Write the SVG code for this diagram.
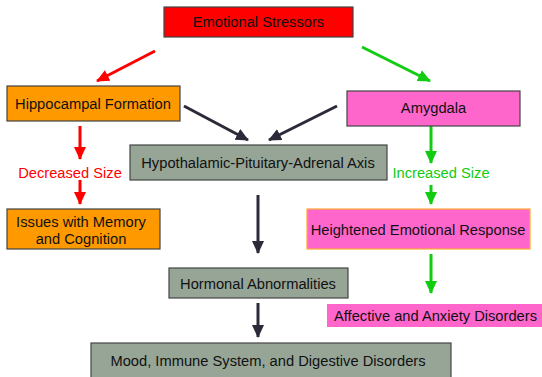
<svg xmlns="http://www.w3.org/2000/svg" width="542" height="377" viewBox="0 0 542 377">
<style>
text{font-family:"Liberation Sans",Arial,sans-serif;font-size:14.7px;text-anchor:middle;fill:#111}
.box{stroke:#444;stroke-width:1.2}
.red{fill:#FF0000}
.org{fill:#FF9900}
.pink{fill:#FF66CC}
.gray{fill:#96A596}
.lr{stroke:#FF0000;stroke-width:3;fill:none}
.lg{stroke:#11CC11;stroke-width:3;fill:none}
.ld{stroke:#2A2A38;stroke-width:3;fill:none}
.tr{fill:#FF0000}
.tg{fill:#11CC11}
</style>
<defs>
<marker id="ar" markerUnits="userSpaceOnUse" markerWidth="14" markerHeight="14" viewBox="0 0 14 14" refX="12" refY="7" orient="auto"><path d="M0,1 L13,7 L0,13 Z" fill="#FF0000"/></marker>
<marker id="ag" markerUnits="userSpaceOnUse" markerWidth="14" markerHeight="14" viewBox="0 0 14 14" refX="12" refY="7" orient="auto"><path d="M0,1 L13,7 L0,13 Z" fill="#11CC11"/></marker>
<marker id="ad" markerUnits="userSpaceOnUse" markerWidth="14" markerHeight="14" viewBox="0 0 14 14" refX="12" refY="7" orient="auto"><path d="M0,1 L13,7 L0,13 Z" fill="#2A2A38"/></marker>
</defs>
<g id="connectors">
<line class="lr" x1="155" y1="51" x2="97" y2="81" marker-end="url(#ar)"/>
<line class="lg" x1="362" y1="47" x2="430" y2="81" marker-end="url(#ag)"/>
<line class="ld" x1="184" y1="106" x2="248" y2="140" marker-end="url(#ad)"/>
<line class="ld" x1="337" y1="106" x2="269" y2="140" marker-end="url(#ad)"/>
<line class="lr" x1="80" y1="126" x2="80" y2="159" marker-end="url(#ar)"/>
<line class="lr" x1="80" y1="180" x2="80" y2="204" marker-end="url(#ar)"/>
<line class="lg" x1="431" y1="126" x2="431" y2="163" marker-end="url(#ag)"/>
<line class="lg" x1="431" y1="185" x2="431" y2="204" marker-end="url(#ag)"/>
<line class="lg" x1="431" y1="254" x2="431" y2="293" marker-end="url(#ag)"/>
<line class="ld" x1="258" y1="195" x2="258" y2="253" marker-end="url(#ad)"/>
<line class="ld" x1="258" y1="303" x2="258" y2="337" marker-end="url(#ad)"/>
<text class="tr" x="70" y="178">Decreased Size</text>
<text class="tg" x="441" y="178">Increased Size</text>
</g>
<g id="emotional-stressors"><rect class="box red" x="164" y="7" width="189" height="30"/><text x="258.5" y="27">Emotional Stressors</text></g>
<g id="hippocampal"><rect class="box org" x="7" y="86" width="173" height="35"/><text x="93" y="109">Hippocampal Formation</text></g>
<g id="amygdala"><rect class="box pink" x="347" y="91" width="173" height="35"/><text x="433.5" y="113">Amygdala</text></g>
<g id="hpa"><rect class="box gray" x="130" y="145" width="257" height="35"/><text x="258" y="168">Hypothalamic-Pituitary-Adrenal Axis</text></g>
<g id="memory"><rect class="box org" x="7" y="209" width="153" height="40"/><text x="81" y="227">Issues with Memory</text><text x="81" y="244">and Cognition</text></g>
<g id="heightened"><rect x="307" y="209" width="223" height="40" class="pink" stroke="#FFAA33" stroke-width="1.2"/><text x="418" y="235">Heightened Emotional Response</text></g>
<g id="hormonal"><rect class="box gray" x="169" y="268" width="179" height="30"/><text x="258" y="289">Hormonal Abnormalities</text></g>
<g id="affective"><rect class="pink" x="327" y="304" width="215" height="23"/><text x="435.5" y="321">Affective and Anxiety Disorders</text></g>
<g id="mood"><rect class="box gray" x="91" y="343" width="360" height="40"/><text x="268" y="366">Mood, Immune System, and Digestive Disorders</text></g>
</svg>
